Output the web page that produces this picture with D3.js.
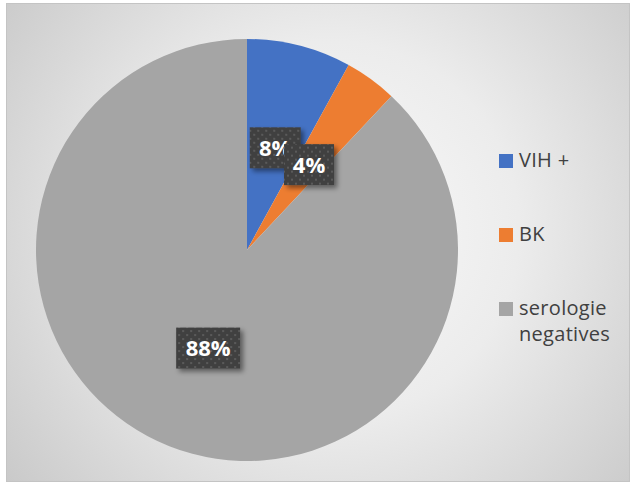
<!DOCTYPE html>
<html>
<head>
<meta charset="utf-8">
<script src="https://cdn.jsdelivr.net/npm/d3@7"></script>
<style>
  html, body { margin: 0; padding: 0; background: #ffffff; }
  svg { display: block; }
</style>
</head>
<body>
<svg id="chart" width="632" height="495"></svg>
<script>
// Chart data
const categories = ["VIH +", "BK", "serologie negatives"];
const values = [8, 4, 88];
const valueLabels = ["8%", "4%", "88%"];
const colors = ["#4472C4", "#ED7D31", "#A5A5A5"];

const svg = d3.select("#chart");
const defs = svg.append("defs");

// Radial background gradient of the chart area
const bg = defs.append("radialGradient")
  .attr("id", "bgGrad")
  .attr("gradientUnits", "userSpaceOnUse")
  .attr("cx", 330).attr("cy", 230).attr("r", 420);
bg.append("stop").attr("offset", "0%").attr("stop-color", "#fafafa");
bg.append("stop").attr("offset", "45%").attr("stop-color", "#ececec");
bg.append("stop").attr("offset", "100%").attr("stop-color", "#c8c8c8");

// Dotted fill used by the value labels
const pat = defs.append("pattern")
  .attr("id", "dots")
  .attr("patternUnits", "userSpaceOnUse")
  .attr("width", 8).attr("height", 8);
pat.append("rect").attr("width", 8).attr("height", 8).attr("fill", "#404040");
pat.append("rect").attr("x", 2).attr("y", 2).attr("width", 2).attr("height", 2).attr("fill", "#5a5a5a");
pat.append("rect").attr("x", 6).attr("y", 6).attr("width", 2).attr("height", 2).attr("fill", "#5a5a5a");

// Soft shadow behind the labels
const sh = defs.append("filter").attr("id", "shadow")
  .attr("x", "-30%").attr("y", "-30%").attr("width", "170%").attr("height", "180%");
sh.append("feDropShadow")
  .attr("dx", 3).attr("dy", 3).attr("stdDeviation", 2.5)
  .attr("flood-color", "#000").attr("flood-opacity", 0.45);

// Chart area
svg.append("rect")
  .attr("x", 6.5).attr("y", 3.5)
  .attr("width", 623).attr("height", 478)
  .attr("fill", "url(#bgGrad)")
  .attr("stroke", "#c4c4c4").attr("stroke-width", 1);

// Pie
const cx = 247, cy = 250, radius = 211;
const pie = d3.pie().sort(null).value(d => d)(values);
const arc = d3.arc().innerRadius(0).outerRadius(radius);

const g = svg.append("g").attr("transform", `translate(${cx},${cy})`);
g.selectAll("path.slice")
  .data(pie)
  .join("path")
  .attr("class", "slice")
  .attr("d", arc)
  .attr("fill", (d, i) => colors[i]);

// Value labels at slice centroids
const labelFont = "bold 22px 'Open Sans', 'DejaVu Sans', sans-serif";
const boxW = [51, 50, 64], boxH = 41;
const offsets = [[2, 0], [0, 0], [0, 0]];
const lbl = g.selectAll("g.lbl")
  .data(pie)
  .join("g")
  .attr("class", "lbl")
  .attr("transform", (d, i) => {
    const c = arc.centroid(d);
    return `translate(${c[0] + offsets[i][0]},${c[1] + offsets[i][1]})`;
  });
lbl.append("rect")
  .attr("x", (d, i) => -boxW[i] / 2)
  .attr("y", -boxH / 2)
  .attr("width", (d, i) => boxW[i])
  .attr("height", boxH)
  .attr("fill", "url(#dots)")
  .attr("filter", "url(#shadow)");
lbl.append("text")
  .attr("text-anchor", "middle")
  .attr("dy", "0.36em")
  .style("font", labelFont)
  .attr("fill", "#ffffff")
  .text((d, i) => valueLabels[i]);

// Legend
const legendFont = "20px 'Open Sans', 'Noto Sans', sans-serif";
const legendY = [161, 235, 309];
const legend = svg.append("g").attr("transform", "translate(499,0)");
categories.forEach((name, i) => {
  const row = legend.append("g").attr("transform", `translate(0,${legendY[i]})`);
  row.append("rect")
    .attr("x", 0).attr("y", -7)
    .attr("width", 14).attr("height", 14)
    .attr("fill", colors[i]);
  const words = name === "serologie negatives" ? ["serologie", "negatives"] : [name];
  const t = row.append("text")
    .attr("x", 20).attr("y", 6)
    .style("font", legendFont)
    .style("letter-spacing", "0.3px")
    .attr("fill", "#404040");
  words.forEach((w, j) => {
    t.append("tspan").attr("x", 20).attr("dy", j === 0 ? 0 : 26).text(w);
  });
});
</script>
</body>
</html>
